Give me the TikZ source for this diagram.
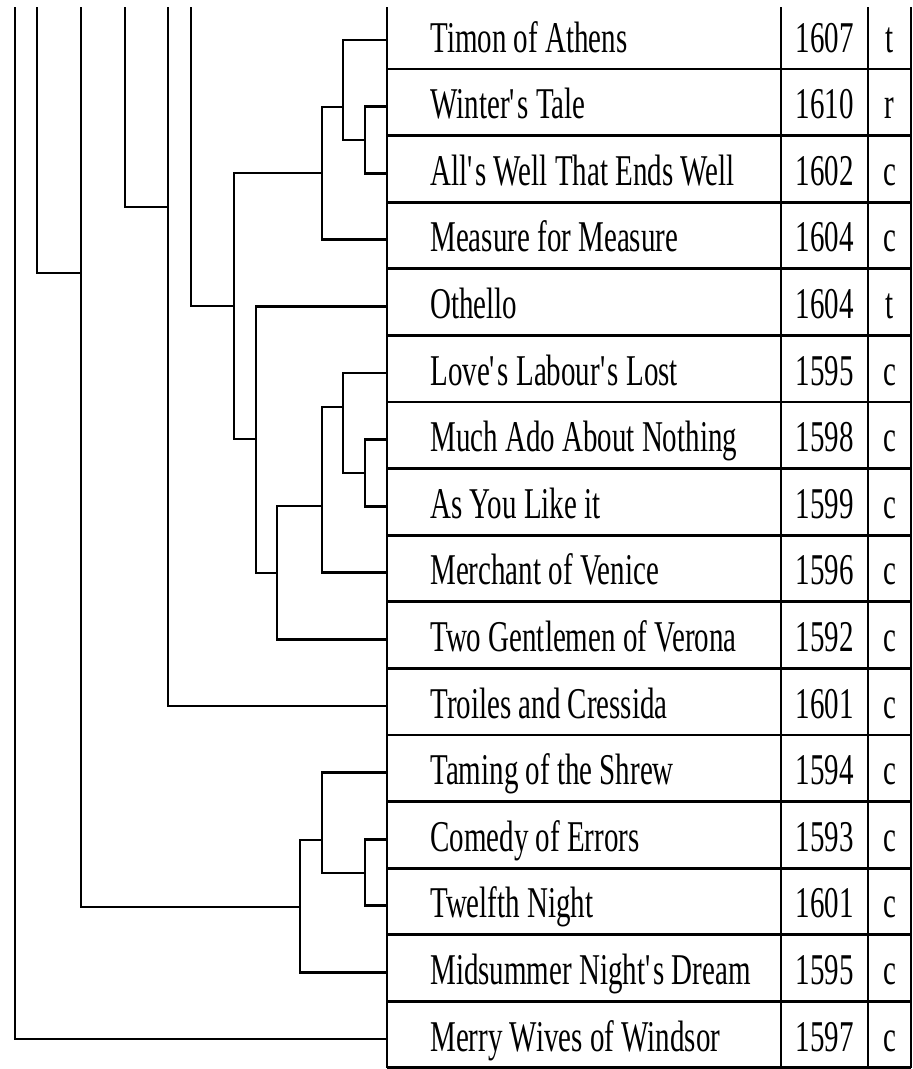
\documentclass[tikz,border=0pt]{standalone}
\usepackage{fontspec}
\newfontfamily\playfont[FakeStretch=0.66]{Liberation Serif}

\begin{document}
\begin{tikzpicture}[x=0.02cm,y=-0.02cm,line width=1.5pt,
    title/.style={anchor=base west,inner sep=0pt,font={\playfont\fontsize{25}{30}\selectfont}},
    year/.style={anchor=base,inner sep=0pt,font={\playfont\fontsize{25}{30}\selectfont}},
    genre/.style={anchor=base,inner sep=0pt,font={\playfont\fontsize{25}{30}\selectfont}}]
  \useasboundingbox (0,0) rectangle (913,1069);

  % table frame
  \draw (387,7) -- (387,1067.5);
  \draw (781,7) -- (781,1067.5);
  \draw (868,7) -- (868,1067.5);
  \draw (911,7) -- (911,1067.5);
  \draw (387,69) -- (911,69) (387,135.6) -- (911,135.6) (387,202.2) -- (911,202.2)
        (387,268.8) -- (911,268.8) (387,335.4) -- (911,335.4) (387,402) -- (911,402)
        (387,468.6) -- (911,468.6) (387,535.2) -- (911,535.2) (387,601.8) -- (911,601.8)
        (387,668.4) -- (911,668.4) (387,735) -- (911,735) (387,801.6) -- (911,801.6)
        (387,868.2) -- (911,868.2) (387,934.8) -- (911,934.8) (387,1001.4) -- (911,1001.4)
        (387,1067.5) -- (911,1067.5);

  % rows
  \coordinate (timon) at (387,40);
  \node[title] (timon-t) at (429,52) {Timon of Athens};
  \node[year] (timon-y) at (824.5,52) {1607};
  \node[genre] (timon-g) at (889.5,52) {t};

  \coordinate (winter) at (387,106.6);
  \node[title] (winter-t) at (429,118.6) {Winter\textquotesingle s Tale};
  \node[year] (winter-y) at (824.5,118.6) {1610};
  \node[genre] (winter-g) at (889.5,118.6) {r};

  \coordinate (alls) at (387,173.2);
  \node[title] (alls-t) at (429,185.2) {All\textquotesingle s Well That Ends Well};
  \node[year] (alls-y) at (824.5,185.2) {1602};
  \node[genre] (alls-g) at (889.5,185.2) {c};

  \coordinate (measure) at (387,239.8);
  \node[title] (measure-t) at (429,251.8) {Measure for Measure};
  \node[year] (measure-y) at (824.5,251.8) {1604};
  \node[genre] (measure-g) at (889.5,251.8) {c};

  \coordinate (othello) at (387,306.4);
  \node[title] (othello-t) at (429,318.4) {Othello};
  \node[year] (othello-y) at (824.5,318.4) {1604};
  \node[genre] (othello-g) at (889.5,318.4) {t};

  \coordinate (loves) at (387,373);
  \node[title] (loves-t) at (429,385) {Love\textquotesingle s Labour\textquotesingle s Lost};
  \node[year] (loves-y) at (824.5,385) {1595};
  \node[genre] (loves-g) at (889.5,385) {c};

  \coordinate (muchado) at (387,439.6);
  \node[title] (muchado-t) at (429,451.6) {Much Ado About Nothing};
  \node[year] (muchado-y) at (824.5,451.6) {1598};
  \node[genre] (muchado-g) at (889.5,451.6) {c};

  \coordinate (asyou) at (387,506.2);
  \node[title] (asyou-t) at (429,518.2) {As You Like it};
  \node[year] (asyou-y) at (824.5,518.2) {1599};
  \node[genre] (asyou-g) at (889.5,518.2) {c};

  \coordinate (merchant) at (387,572.8);
  \node[title] (merchant-t) at (429,584.8) {Merchant of Venice};
  \node[year] (merchant-y) at (824.5,584.8) {1596};
  \node[genre] (merchant-g) at (889.5,584.8) {c};

  \coordinate (twogent) at (387,639.4);
  \node[title] (twogent-t) at (429,651.4) {Two Gentlemen of Verona};
  \node[year] (twogent-y) at (824.5,651.4) {1592};
  \node[genre] (twogent-g) at (889.5,651.4) {c};

  \coordinate (troiles) at (387,706);
  \node[title] (troiles-t) at (429,718) {Troiles and Cressida};
  \node[year] (troiles-y) at (824.5,718) {1601};
  \node[genre] (troiles-g) at (889.5,718) {c};

  \coordinate (taming) at (387,772.6);
  \node[title] (taming-t) at (429,784.6) {Taming of the Shrew};
  \node[year] (taming-y) at (824.5,784.6) {1594};
  \node[genre] (taming-g) at (889.5,784.6) {c};

  \coordinate (comedy) at (387,839.2);
  \node[title] (comedy-t) at (429,851.2) {Comedy of Errors};
  \node[year] (comedy-y) at (824.5,851.2) {1593};
  \node[genre] (comedy-g) at (889.5,851.2) {c};

  \coordinate (twelfth) at (387,905.8);
  \node[title] (twelfth-t) at (429,917.8) {Twelfth Night};
  \node[year] (twelfth-y) at (824.5,917.8) {1601};
  \node[genre] (twelfth-g) at (889.5,917.8) {c};

  \coordinate (midsummer) at (387,972.4);
  \node[title] (midsummer-t) at (429,984.4) {Midsummer Night\textquotesingle s Dream};
  \node[year] (midsummer-y) at (824.5,984.4) {1595};
  \node[genre] (midsummer-g) at (889.5,984.4) {c};

  \coordinate (merry) at (387,1039);
  \node[title] (merry-t) at (429,1051) {Merry Wives of Windsor};
  \node[year] (merry-y) at (824.5,1051) {1597};
  \node[genre] (merry-g) at (889.5,1051) {c};

  % joins of the tree
  \coordinate (jA) at (365,140);
  \coordinate (jB) at (343,107);
  \coordinate (jC) at (322,173);
  \coordinate (jD) at (234,306);
  \coordinate (jE) at (365,473);
  \coordinate (jF) at (343,407);
  \coordinate (jG) at (322,506);
  \coordinate (jH) at (277,573);
  \coordinate (jI) at (256,439);
  \coordinate (jL) at (168,207);
  \coordinate (jN) at (81,273);
  \coordinate (jO) at (322,840);
  \coordinate (jP) at (300,907);
  \coordinate (jQ) at (365,873);

  % branches cut at the top
  \coordinate (cut15) at (15,7);
  \coordinate (cut37) at (37,7);
  \coordinate (cut81) at (81,7);
  \coordinate (cut125) at (125,7);
  \coordinate (cut168) at (168,7);
  \coordinate (cut191) at (191,7);

  \draw (winter) -| (jA) |- (alls);
  \draw (timon) -| (jB) |- (jA);
  \draw (jB) -| (jC) |- (measure);
  \draw (jC) -| (jD) |- (jI);
  \draw (muchado) -| (jE) |- (asyou);
  \draw (loves) -| (jF) |- (jE);
  \draw (jF) -| (jG) |- (merchant);
  \draw (jG) -| (jH) |- (twogent);
  \draw (othello) -| (jI) |- (jH);
  \draw (comedy) -| (jQ) |- (twelfth);
  \draw (taming) -| (jO) |- (jQ);
  \draw (jO) -| (jP) |- (midsummer);

  \draw (cut191) |- (jD);
  \draw (cut168) |- (troiles);
  \draw (cut125) |- (jL);
  \draw (cut81) |- (jP);
  \draw (cut37) |- (jN);
  \draw (cut15) |- (merry);
\end{tikzpicture}
\end{document}
